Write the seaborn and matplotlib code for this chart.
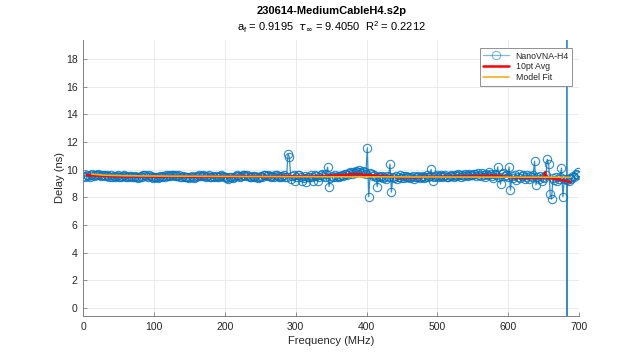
import numpy as np
import pandas as pd
import seaborn as sns
import matplotlib.pyplot as plt

# measured delay, one point every 2 MHz, plus the glitch near 682 MHz
freq = list(range(1, 681, 2)) + [682.4, 682.5, 682.6, 682.7, 685, 687, 689, 691,
                                 693, 695, 697, 699]
delay = [
    9.55, 9.50, 9.62, 9.56, 9.48, 9.60, 9.65, 9.55, 9.62, 9.58, 9.68, 9.60, 9.55, 9.63, 9.58, 9.52, 9.60, 9.55, 9.50, 9.58,
    9.48, 9.55, 9.45, 9.52, 9.58, 9.50, 9.46, 9.55, 9.60, 9.52, 9.48, 9.44, 9.52, 9.57, 9.50, 9.46, 9.53, 9.48, 9.42, 9.50,
    9.55, 9.48, 9.58, 9.62, 9.55, 9.50, 9.58, 9.53, 9.47, 9.42, 9.50, 9.46, 9.40, 9.48, 9.52, 9.45, 9.55, 9.50, 9.58, 9.54,
    9.60, 9.56, 9.64, 9.58, 9.52, 9.60, 9.55, 9.62, 9.50, 9.46, 9.55, 9.50, 9.44, 9.48, 9.40, 9.45, 9.52, 9.48, 9.43, 9.50,
    9.55, 9.60, 9.52, 9.57, 9.62, 9.55, 9.48, 9.53, 9.58, 9.50, 9.45, 9.52, 9.47, 9.55, 9.50, 9.46, 9.56, 9.60, 9.52, 9.48,
    9.45, 9.40, 9.36, 9.44, 9.48, 9.42, 9.50, 9.55, 9.60, 9.52, 9.48, 9.56, 9.62, 9.58, 9.52, 9.60, 9.55, 9.50, 9.46, 9.52,
    9.50, 9.56, 9.45, 9.40, 9.50, 9.56, 9.48, 9.58, 9.62, 9.55, 9.60, 9.52, 9.48, 9.55, 9.50, 9.58, 9.62, 9.55, 9.48, 9.45,
    9.52, 9.58, 9.50, 9.46, 11.15, 10.92, 9.35, 9.55, 9.60, 9.15, 9.45, 9.58, 9.62, 9.50, 9.18, 9.42, 9.55, 9.12, 9.50, 9.45,
    9.58, 9.48, 9.20, 9.62, 9.55, 9.18, 9.50, 9.58, 9.65, 9.52, 9.45, 9.70, 10.18, 8.78, 9.42, 9.55, 9.50, 9.60, 9.45, 9.52,
    9.48, 9.55, 9.60, 9.52, 9.65, 9.70, 9.62, 9.75, 9.82, 9.72, 9.85, 9.78, 9.90, 9.82, 9.95, 9.85, 9.78, 9.88, 9.80, 9.72,
    11.58, 8.05, 9.75, 9.65, 9.55, 9.62, 9.50, 8.78, 9.55, 9.45, 9.52, 9.40, 9.48, 9.35, 9.55, 9.45, 10.40, 8.38, 9.50, 9.42,
    9.55, 9.30, 9.48, 9.58, 9.42, 9.52, 9.38, 9.55, 9.45, 9.50, 9.40, 9.48, 9.55, 9.35, 9.50, 9.44, 9.52, 9.38, 9.48, 9.55,
    9.42, 9.50, 9.58, 9.45, 9.55, 10.02, 9.20, 9.48, 9.55, 9.62, 9.45, 9.52, 9.58, 9.48, 9.55, 9.60, 9.50, 9.45, 9.56, 9.62,
    9.55, 9.48, 9.60, 9.52, 9.65, 9.58, 9.50, 9.62, 9.55, 9.68, 9.60, 9.52, 9.70, 9.62, 9.58, 9.72, 9.65, 9.55, 9.75, 9.62,
    9.55, 9.78, 9.62, 9.45, 9.70, 9.58, 9.85, 9.65, 9.55, 9.40, 9.72, 9.60, 10.20, 9.45, 8.95, 9.65, 9.75, 9.55, 9.62, 9.48,
    10.20, 8.52, 9.55, 9.40, 9.62, 9.25, 9.50, 9.70, 9.38, 9.55, 9.62, 9.30, 9.48, 9.58, 9.35, 9.52, 9.45, 9.60, 10.62, 8.90,
    9.45, 9.30, 9.55, 9.20, 9.48, 9.38, 9.60, 10.75, 10.38, 8.22, 7.88, 9.40, 9.25, 9.50, 9.15, 9.35, 9.45, 10.12, 8.05, 9.30,
    9.28, 1.0e4, -1.0e4, 9.35, 9.20, 9.40, 9.30, 9.55, 9.45, 9.70, 9.62, 9.85,
]

avg_freq = [5, 25, 45, 65, 85, 105, 125, 145, 165, 185, 205, 225, 245, 265,
            285, 305, 325, 345, 365, 385, 405, 425, 445, 465, 485, 505, 525,
            545, 565, 585, 605, 625, 645, 650, 652, 654, 670, 688]
avg_delay = [9.60, 9.56, 9.52, 9.50, 9.52, 9.48, 9.52, 9.50, 9.47, 9.50,
             9.48, 9.52, 9.50, 9.47, 9.52, 9.50, 9.50, 9.55, 9.60, 9.68,
             9.60, 9.52, 9.45, 9.45, 9.48, 9.48, 9.50, 9.52, 9.55, 9.55,
             9.45, 9.42, 9.42, 9.42, 9.80, 9.42, 9.30, 9.12]

fit_freq = [12, 30, 60, 100, 200, 300, 400, 500, 600, 688]
fit_delay = [9.68, 9.60, 9.56, 9.54, 9.51, 9.49, 9.48, 9.47, 9.46, 9.45]

sns.set_theme(style='whitegrid')
plt.rcParams['font.family'] = ['Liberation Sans', 'DejaVu Sans']

fig = plt.figure(figsize=(6.4, 3.56), dpi=100)
ax = fig.add_axes([0.130, 0.112, 0.775, 0.777])

df = pd.DataFrame({'f': freq, 'd': delay})
sns.lineplot(data=df, x='f', y='d', ax=ax, color='#0072BD', lw=0.9, alpha=0.8,
             marker='o', markersize=6, markerfacecolor='none',
             markeredgecolor='#0072BD', markeredgewidth=0.8,
             estimator=None, sort=False, label='NanoVNA-H4')
sns.lineplot(x=avg_freq, y=avg_delay, ax=ax, color='#FF0000', lw=1.8,
             estimator=None, label='10pt Avg')
sns.lineplot(x=fit_freq, y=fit_delay, ax=ax, color='#EDB120', lw=1.2,
             estimator=None, label='Model Fit')

ax.set_xlim(0, 700)
ax.set_ylim(-0.58, 19.4)
ax.set_xticks(range(0, 701, 100))
ax.set_yticks(range(0, 19, 2))
ax.grid(True, color='#e8e8e8', lw=0.6)
ax.set_facecolor('white')
for s in ['top', 'right']:
    ax.spines[s].set_visible(False)
for s in ['left', 'bottom']:
    ax.spines[s].set_color('#808080')
    ax.spines[s].set_linewidth(0.7)
ax.tick_params(direction='in', length=3, width=0.6, color='#808080',
               labelsize=7.5, labelcolor='#262626', left=True, bottom=True, pad=4)

ax.set_xlabel('Frequency (MHz)', fontsize=8, color='#262626', labelpad=3)
ax.set_ylabel('Delay (ns)', fontsize=8, color='#262626', labelpad=0.5)

ax.text(0.5, 1.104, '230614-MediumCableH4.s2p', transform=ax.transAxes,
        ha='center', va='center', fontsize=8, fontweight='bold', color='black')
ax.text(0.5, 1.045, r'a$_\mathregular{f}$ = 0.9195  $\tau_\infty$ = 9.4050  R$^\mathregular{2}$ = 0.2212',
        transform=ax.transAxes, ha='center', va='center', fontsize=8, color='black')

leg = ax.legend(loc='upper right', fontsize=6.3, frameon=True, fancybox=False,
                edgecolor='#808080', framealpha=1, borderpad=0.4,
                handlelength=2.9, labelspacing=0.2, bbox_to_anchor=(0.995, 0.985))
leg.get_frame().set_linewidth(0.6)
leg.get_lines()[0].set_alpha(0.5)

fig.savefig('out.png', dpi=100)
